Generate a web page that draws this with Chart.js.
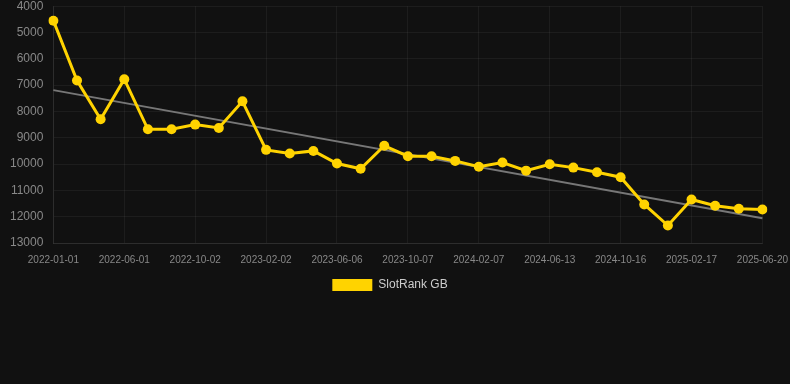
<!DOCTYPE html>
<html>
<head>
<meta charset="utf-8">
<script src="https://cdn.jsdelivr.net/npm/chart.js@4"></script>
<style>
  html, body { margin: 0; padding: 0; background: #111111; overflow: hidden; }
  #c { display: block; margin-top: -11px; width: 799px; height: 312px; }
</style>
</head>
<body>
<canvas id="c" width="799" height="312"></canvas>
<script>
const categories = [
  "2022-01-01","2022-02-20","2022-04-11","2022-06-01","2022-07-12","2022-08-22",
  "2022-10-02","2022-11-12","2022-12-23","2023-02-02","2023-03-17","2023-04-26",
  "2023-06-06","2023-07-17","2023-08-27","2023-10-07","2023-11-17","2023-12-28",
  "2024-02-07","2024-03-19","2024-05-01","2024-06-13","2024-07-25","2024-09-04",
  "2024-10-16","2024-11-26","2025-01-07","2025-02-17","2025-03-31","2025-05-10",
  "2025-06-20"
];
const rankValues = [
  4550, 6825, 8300, 6775, 8680, 8680, 8500, 8630, 7615, 9460, 9600,
  9500, 9980, 10180, 9305, 9700, 9700, 9880, 10100, 9940, 10250,
  10005, 10135, 10310, 10500, 11535, 12335, 11345, 11585, 11700, 11725
];
const trendStart = 7190;
const trendEnd = 12060;
const yTicks = [4000, 5000, 6000, 7000, 8000, 9000, 10000, 11000, 12000, 13000];

const trendData = categories.map((_, i) =>
  i === 0 ? trendStart : (i === categories.length - 1 ? trendEnd : null));

const FONT = 'Liberation Sans, Arial, sans-serif';

new Chart(document.getElementById('c'), {
  type: 'line',
  data: {
    labels: categories,
    datasets: [
      {
        label: 'SlotRank GB',
        data: rankValues,
        borderColor: '#FFD300',
        backgroundColor: '#FFD300',
        borderWidth: 3,
        pointRadius: 5,
        pointHoverRadius: 5,
        pointBackgroundColor: '#FFD300',
        pointBorderWidth: 0,
        tension: 0,
        order: 1
      },
      {
        label: 'trend',
        data: trendData,
        spanGaps: true,
        borderColor: '#777777',
        borderWidth: 2,
        pointRadius: 0,
        fill: false,
        order: 2
      }
    ]
  },
  options: {
    responsive: false,
    animation: false,
    devicePixelRatio: 1,
    layout: { padding: { left: 0, right: 19, top: 0, bottom: 0 } },
    plugins: {
      legend: {
        position: 'bottom',
        labels: {
          color: '#cccccc',
          font: { family: FONT, size: 12 },
          boxWidth: 40,
          boxHeight: 12,
          padding: 2,
          generateLabels: function(chart) {
            const items = Chart.defaults.plugins.legend.labels.generateLabels(chart);
            return items.filter(it => it.text !== 'trend').map(it => Object.assign(it, { lineWidth: 0 }));
          }
        }
      },
      tooltip: { enabled: false }
    },
    scales: {
      x: {
        offset: false,
        grid: { color: 'rgba(255,255,255,0.05)', drawTicks: false },
        border: { color: 'rgba(255,255,255,0.08)' },
        ticks: {
          color: '#888888',
          font: { family: FONT, size: 10 },
          autoSkip: false,
          maxRotation: 0,
          padding: 11,
          callback: function(v, i) { return i % 3 === 0 ? categories[i] : null; }
        }
      },
      y: {
        reverse: true,
        min: 4000,
        max: 13000,
        afterBuildTicks: (axis) => { axis.ticks = yTicks.map(v => ({ value: v })); },
        grid: { color: 'rgba(255,255,255,0.05)', drawTicks: false },
        border: { color: 'rgba(255,255,255,0.08)' },
        ticks: {
          color: '#888888',
          font: { family: FONT, size: 12 },
          padding: 10,
          callback: (v) => String(v)
        }
      }
    }
  }
});
</script>
</body>
</html>
